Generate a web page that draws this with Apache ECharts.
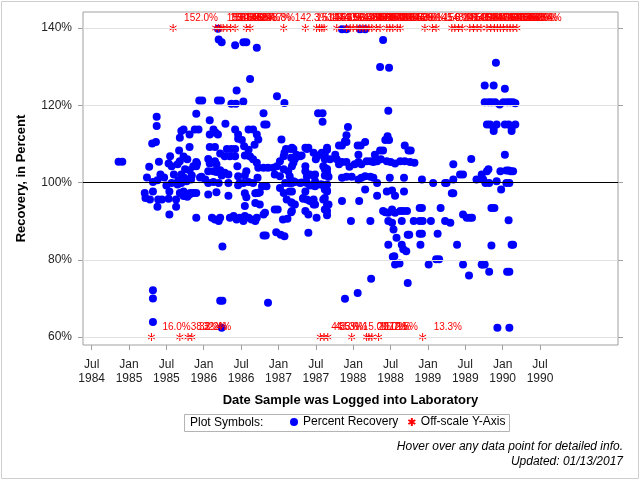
<!DOCTYPE html>
<html>
<head>
<meta charset="utf-8">
<title>Percent Recovery by Log Date</title>
<script src="https://cdn.jsdelivr.net/npm/echarts@6/dist/echarts.min.js"></script>
<style>
  html, body { margin: 0; padding: 0; background: #fff; }
  #chart { width: 640px; height: 480px; }
</style>
</head>
<body>
<div id="chart"></div>
<script>
// x = decimal year the sample was logged (1986.5 = Jul 1986), y = percent recovery
const xTickValues = [1984.5, 1985, 1985.5, 1986, 1986.5, 1987, 1987.5, 1988, 1988.5, 1989, 1989.5, 1990, 1990.5]
const xTickLabels = ['Jul\n1984', 'Jan\n1985', 'Jul\n1985', 'Jan\n1986', 'Jul\n1986', 'Jan\n1987', 'Jul\n1987',
  'Jan\n1988', 'Jul\n1988', 'Jan\n1989', 'Jul\n1989', 'Jan\n1990', 'Jul\n1990']
const yTickValues = [60, 80, 100, 120, 140]
const yGridValues = [60, 80, 120, 140]

const pts1985 = [
  [1984.86, 105.4], [1984.91, 105.4],
  [1985.37, 117.0], [1985.37, 114.6], [1985.31, 110.1], [1985.36, 110.5], [1985.27, 104.1], [1985.40, 105.4],
  [1985.24, 101.3], [1985.32, 100.1], [1985.38, 100.6], [1985.42, 102.1], [1985.21, 97.3], [1985.22, 96.0],
  [1985.28, 95.6], [1985.32, 97.7], [1985.39, 95.6], [1985.44, 95.6], [1985.38, 93.7], [1985.54, 91.7],
  [1985.54, 97.7], [1985.63, 95.6], [1985.63, 93.7], [1985.55, 106.8], [1985.53, 104.9], [1985.57, 104.2],
  [1985.70, 113.3], [1985.68, 111.6], [1985.73, 113.7], [1985.81, 112.4], [1985.81, 109.2], [1985.67, 108.3],
  [1985.73, 106.7], [1985.68, 105.5], [1985.65, 104.7], [1985.78, 106.0], [1985.81, 103.2], [1985.74, 101.2],
  [1985.66, 100.6], [1985.60, 102.1], [1985.57, 99.9], [1985.65, 99.5], [1985.70, 99.9], [1985.77, 100.3],
  [1985.83, 100.8], [1985.86, 104.2], [1985.91, 104.9], [1985.86, 97.3], [1985.81, 96.9], [1985.73, 97.7],
  [1985.68, 97.3], [1985.90, 90.9], [1985.94, 121.2], [1985.90, 117.8], [1985.88, 113.7], [1985.93, 113.7],
  [1985.32, 72.1], [1985.32, 70.0], [1985.32, 63.9],
  [1985.53, 95.8], [1985.73, 96.5], [1985.78, 96.3], [1985.82, 97.3], [1985.90, 105.3], [1985.90, 104.2],
  [1985.90, 97.3], [1985.75, 103.4], [1985.70, 102.1], [1985.84, 101.8], [1985.95, 101.3], [1985.47, 101.3],
  [1985.50, 99.2]
]

const pts1986 = [
  [1986.20, 137.0], [1986.24, 136.3], [1986.42, 135.5], [1986.53, 136.3], [1986.57, 136.3], [1986.71, 134.9],
  [1986.62, 126.8], [1986.44, 123.8], [1985.98, 121.2], [1986.19, 121.2], [1986.23, 121.2], [1986.37, 120.4],
  [1986.43, 120.4], [1986.53, 121.0], [1986.98, 122.3], [1987.08, 120.6], [1986.80, 117.9], [1986.81, 115.0],
  [1986.84, 115.0], [1986.08, 116.1], [1986.29, 115.2], [1986.13, 113.7], [1986.16, 112.9], [1986.08, 112.4],
  [1986.19, 112.4], [1986.42, 113.7], [1986.46, 112.4], [1986.46, 111.3], [1986.51, 111.0], [1986.60, 113.7],
  [1986.66, 113.7], [1986.71, 112.4], [1986.73, 111.1], [1986.68, 109.8], [1986.08, 109.2], [1986.15, 109.2],
  [1986.31, 108.7], [1986.37, 108.7], [1986.42, 108.7], [1986.54, 109.4], [1986.60, 108.5], [1986.22, 107.5],
  [1986.28, 106.8], [1986.35, 106.8], [1986.42, 106.8], [1986.55, 107.0], [1986.62, 106.7], [1986.66, 106.0],
  [1986.71, 105.1], [1986.73, 103.8], [1986.80, 103.8], [1986.86, 103.8], [1986.93, 103.8], [1986.98, 104.2],
  [1987.02, 105.5], [1987.07, 106.8], [1987.10, 108.7], [1987.16, 108.7], [1987.20, 108.7], [1987.04, 111.1],
  [1987.08, 107.7], [1987.17, 106.4], [1986.06, 106.1], [1986.08, 104.9], [1986.15, 105.5], [1986.17, 104.7],
  [1986.06, 102.9], [1986.13, 102.9], [1986.17, 102.7], [1986.22, 103.2], [1985.97, 101.5], [1986.02, 100.8],
  [1986.06, 99.9], [1986.13, 100.1], [1986.20, 99.9], [1986.24, 101.8], [1986.28, 102.5], [1986.33, 102.1],
  [1986.33, 99.9], [1986.45, 104.2], [1986.46, 101.6], [1986.55, 101.8], [1986.57, 102.9], [1986.53, 99.9],
  [1986.48, 99.9], [1986.60, 100.1], [1986.66, 99.9], [1986.72, 101.2], [1986.78, 99.0], [1986.84, 99.0],
  [1986.75, 97.5], [1986.71, 97.3], [1986.95, 102.1], [1987.02, 101.6], [1987.07, 103.4], [1987.13, 102.9],
  [1987.15, 101.6], [1987.18, 104.2], [1987.20, 105.1], [1987.09, 99.9], [1987.14, 99.9], [1987.20, 100.3],
  [1986.06, 96.9], [1986.17, 97.5], [1986.33, 96.6], [1986.46, 99.3], [1986.55, 97.2], [1986.57, 96.2],
  [1986.69, 97.2], [1986.73, 97.3], [1987.02, 98.6], [1987.07, 97.3], [1987.15, 97.7], [1987.11, 95.6],
  [1987.17, 94.9], [1986.55, 93.9], [1986.69, 94.7], [1986.75, 94.3], [1986.80, 91.7], [1986.82, 92.2],
  [1986.11, 90.9], [1986.15, 90.4], [1986.20, 90.0], [1986.22, 90.9], [1986.35, 90.9], [1986.40, 91.3],
  [1986.44, 90.4], [1986.48, 90.9], [1986.53, 90.0], [1986.55, 91.3], [1986.60, 90.9], [1986.64, 90.4],
  [1986.69, 90.0], [1986.71, 90.9], [1986.80, 86.3], [1986.83, 86.3], [1986.95, 93.0], [1986.99, 93.0],
  [1986.97, 87.1], [1987.03, 86.5], [1987.08, 86.1], [1987.06, 90.4], [1987.12, 90.6], [1987.17, 92.3],
  [1986.25, 83.4], [1986.22, 69.4], [1986.25, 69.4], [1986.86, 68.9], [1986.24, 62.4], [1986.19, 139.8]
]

const pts1987 = [
  [1987.53, 117.9], [1987.59, 117.9], [1987.59, 115.7], [1987.93, 114.4], [1987.91, 112.2], [1987.81, 109.6],
  [1987.85, 109.6], [1987.91, 110.5], [1987.38, 108.7], [1987.31, 107.0], [1987.47, 107.7], [1987.50, 106.0],
  [1987.53, 107.0], [1987.58, 107.7], [1987.65, 108.5], [1987.18, 109.0], [1987.22, 106.1], [1987.29, 106.8],
  [1987.40, 109.0], [1987.62, 106.0], [1987.69, 106.0], [1987.76, 107.2], [1987.78, 106.0], [1987.81, 104.7],
  [1987.85, 105.3], [1987.91, 105.3], [1987.95, 104.1], [1987.36, 104.2], [1987.36, 102.9], [1987.38, 101.5],
  [1987.47, 101.8], [1987.49, 102.1], [1987.62, 103.8], [1987.62, 101.8], [1987.67, 101.5], [1987.85, 101.2],
  [1987.91, 101.5], [1987.98, 101.5], [1987.42, 99.2], [1987.49, 99.0], [1987.56, 99.5], [1987.49, 100.3],
  [1987.38, 99.9], [1987.31, 100.0], [1987.65, 97.9], [1987.36, 97.7], [1987.33, 96.0], [1987.38, 95.6],
  [1987.47, 95.6], [1987.49, 94.3], [1987.62, 96.0], [1987.65, 94.3], [1987.67, 94.3], [1987.36, 92.6],
  [1987.40, 91.7], [1987.51, 90.9], [1987.65, 92.6], [1987.65, 91.5], [1987.40, 87.0], [1987.85, 95.2],
  [1987.97, 90.0], [1987.89, 69.9], [1987.85, 139.7], [1987.91, 139.7],
  [1987.24, 107.2], [1987.36, 109.0], [1987.42, 102.1], [1987.60, 104.2], [1987.65, 103.5], [1987.18, 99.9],
  [1987.22, 100.1], [1987.29, 99.9], [1987.51, 99.5], [1987.47, 99.2], [1987.58, 99.5], [1987.65, 99.5],
  [1987.65, 97.7], [1987.18, 97.7], [1987.62, 98.2], [1987.18, 94.7], [1987.22, 94.3], [1987.18, 92.6],
  [1987.33, 95.8], [1987.42, 95.2], [1987.47, 94.3], [1987.60, 95.6], [1987.62, 93.0], [1987.62, 107.2],
  [1987.65, 109.0], [1987.62, 103.4], [1987.65, 102.5], [1987.89, 110.7]
]

const pts1988 = [
  [1988.06, 109.6], [1988.10, 109.6], [1988.16, 110.5], [1988.02, 104.7], [1988.07, 105.3], [1988.11, 104.7],
  [1988.18, 105.5], [1988.23, 105.5], [1988.27, 105.3], [1988.32, 105.5], [1988.37, 106.0], [1988.45, 105.5],
  [1988.50, 105.3], [1988.56, 104.9], [1988.63, 105.5], [1988.69, 105.5], [1988.76, 105.3], [1988.82, 105.1],
  [1988.43, 111.0], [1988.46, 112.0], [1988.48, 111.0], [1988.36, 108.3], [1988.40, 108.3], [1988.29, 107.2],
  [1988.69, 109.6], [1988.74, 108.3], [1988.77, 108.3], [1988.47, 118.6], [1988.40, 136.9], [1988.36, 129.9],
  [1988.48, 129.7], [1988.09, 139.7], [1988.16, 139.7], [1988.07, 100.8], [1988.11, 101.2], [1988.16, 101.6],
  [1988.23, 101.5], [1988.27, 101.2], [1988.49, 101.2], [1988.68, 101.2], [1988.16, 98.2], [1988.32, 99.9],
  [1988.32, 96.6], [1988.52, 97.9], [1988.56, 96.6], [1988.68, 97.7], [1988.08, 95.2], [1988.23, 90.0],
  [1988.40, 92.6], [1988.47, 92.2], [1988.52, 93.0], [1988.56, 92.2], [1988.63, 92.6], [1988.67, 92.6],
  [1988.72, 92.6], [1988.47, 90.0], [1988.52, 89.6], [1988.54, 87.8], [1988.58, 85.7], [1988.65, 83.9],
  [1988.71, 82.2], [1988.47, 83.9], [1988.55, 80.9], [1988.56, 78.8], [1988.62, 79.0], [1988.65, 90.0],
  [1988.81, 90.0], [1988.89, 90.0], [1988.93, 90.0], [1988.89, 93.4], [1988.92, 93.4], [1988.89, 86.7],
  [1988.92, 86.7], [1988.73, 86.5], [1988.75, 86.5], [1988.90, 83.9], [1988.24, 75.1], [1988.06, 71.4],
  [1988.73, 74.0], [1988.67, 82.7], [1988.53, 80.8], [1988.92, 100.8], [1988.43, 92.3], [1988.45, 97.7],
  [1988.07, 107.2]
]

const pts1989 = [
  [1989.04, 90.0], [1989.13, 86.7], [1989.17, 93.4], [1989.01, 78.8], [1989.11, 80.1], [1989.15, 80.1],
  [1989.23, 90.0], [1989.30, 89.6], [1989.32, 97.2], [1989.34, 97.2], [1989.39, 83.9], [1989.47, 91.7],
  [1989.52, 90.9], [1989.56, 90.9], [1989.47, 78.8], [1989.55, 75.9], [1989.72, 78.8], [1989.07, 99.9],
  [1989.23, 99.9], [1989.25, 99.9], [1989.34, 100.8], [1989.43, 102.1], [1989.47, 102.1], [1989.34, 104.7],
  [1989.58, 106.1], [1989.65, 100.8], [1989.72, 102.1], [1989.74, 100.8], [1989.79, 102.9], [1989.81, 103.4],
  [1989.77, 99.9], [1989.82, 99.9], [1989.92, 100.3], [1989.97, 102.9], [1990.03, 107.2], [1990.05, 103.1],
  [1990.08, 103.1], [1990.11, 102.9], [1990.14, 102.9], [1990.05, 99.9], [1990.09, 99.9], [1989.98, 98.2],
  [1989.85, 93.4], [1989.89, 93.4], [1989.85, 83.7], [1990.08, 90.2], [1990.12, 83.9], [1990.14, 83.9],
  [1990.03, 124.3], [1989.91, 131.0], [1989.76, 125.1], [1989.88, 125.1],
  [1989.76, 120.8], [1989.81, 120.8], [1989.85, 120.8], [1989.90, 120.8], [1989.96, 120.2], [1990.01, 120.8],
  [1990.06, 120.8], [1990.10, 120.8], [1990.14, 120.8], [1990.17, 120.5],
  [1989.79, 115.0], [1989.83, 115.0], [1989.88, 114.2], [1989.92, 115.0], [1990.03, 115.0], [1990.08, 115.0],
  [1990.12, 114.2], [1990.17, 115.0], [1990.12, 113.3], [1989.88, 113.3],
  [1989.73, 78.8], [1989.76, 78.8], [1989.82, 76.9], [1990.06, 76.9], [1990.09, 76.9], [1989.93, 62.4],
  [1990.09, 62.4], [1989.59, 90.9]
]

// off-scale results: drawn on the 140% / 60% lines, labelled with the real value
const offHighDates = [1985.59, 1986.16, 1986.20, 1986.23, 1986.26, 1986.31, 1986.36, 1986.42, 1986.57, 1986.62,
  1987.07, 1987.36, 1987.51, 1987.55, 1987.58, 1987.61, 1987.78, 1987.91, 1987.96, 1988.00, 1988.05, 1988.09,
  1988.13, 1988.17, 1988.21, 1988.25, 1988.31, 1988.36, 1988.45, 1988.49, 1988.53, 1988.59, 1988.63, 1988.96,
  1989.06, 1989.11, 1989.32, 1989.36, 1989.41, 1989.46, 1989.56, 1989.61, 1989.66, 1989.71, 1989.79, 1989.84,
  1989.89, 1989.93, 1989.97, 1990.01, 1990.06, 1990.10, 1990.14, 1990.19]
const offHighValues = [152.0, 153.6, 158.1, 150.4, 161.3, 148.5, 155.2, 146.9, 157.7, 148.8,
  142.3, 153.1, 147.6, 162.0, 144.5, 151.9, 156.4, 143.8, 158.5, 149.7, 165.2, 145.9,
  152.6, 141.7, 159.0, 147.2, 154.3, 143.1, 150.8, 146.5, 157.3, 144.9, 153.0, 145.3,
  156.2, 148.0, 141.9, 163.5, 150.1, 146.8, 152.4, 144.0, 158.9, 147.5, 155.6, 142.7,
  160.3, 149.1, 145.6, 153.8, 151.2, 146.3, 157.9, 148.4]
const offLowDates = [1985.30, 1985.68, 1985.79, 1985.84, 1987.56, 1987.61, 1987.66, 1987.98, 1988.18, 1988.21,
  1988.25, 1988.34, 1988.93]
const offLowValues = [16.0, 38.2, 33.2, 32.4, 44.3, 43.3, 35.6, 15.0, 20.0, 11.7, 17.1, 12.5, 13.3]

const X_MIN = 1984.384
const X_MAX = 1991.544
const Y_MIN = 57.93
const Y_MAX = 144.14
const FONT = '"Liberation Sans", Arial, Helvetica, sans-serif'
const STAR = 'path://M4,0L4,8M0.54,2L7.46,6M0.54,6L7.46,2'

const recovery = [].concat(pts1985, pts1986, pts1987, pts1988, pts1989)
const offScale = offHighDates.map((d, i) => [d, 140, offHighValues[i]])
  .concat(offLowDates.map((d, i) => [d, 60, offLowValues[i]]))

const chart = echarts.init(document.getElementById('chart'), null, { renderer: 'canvas' })

const xLabel = v => {
  const i = xTickValues.findIndex(t => Math.abs(t - v) < 1e-6)
  return i >= 0 ? xTickLabels[i] : ''
}

const option = {
  animation: false,
  backgroundColor: '#fff',
  textStyle: { fontFamily: FONT },
  grid: { left: 83, right: 22, top: 12, bottom: 135, show: true, borderColor: '#a0a0a0', borderWidth: 1 },
  xAxis: [{
    type: 'value', min: X_MIN, max: X_MAX,
    name: 'Date Sample was Logged into Laboratory',
    nameLocation: 'middle', nameGap: 49,
    nameTextStyle: { fontSize: 13, fontWeight: 'bold', color: '#000', fontFamily: FONT },
    axisLine: { show: false },
    splitLine: { show: false },
    axisTick: { show: true, length: 5, customValues: xTickValues, lineStyle: { color: '#a0a0a0' } },
    axisLabel: { customValues: xTickValues, formatter: xLabel, margin: 12, lineHeight: 14.5,
      fontSize: 12, color: '#222', fontFamily: FONT }
  }],
  yAxis: [{
    type: 'value', min: Y_MIN, max: Y_MAX, position: 'left',
    name: 'Recovery, in Percent',
    nameLocation: 'middle', nameGap: 55, nameRotate: 90,
    nameTextStyle: { fontSize: 13, fontWeight: 'bold', color: '#000', fontFamily: FONT },
    axisLine: { show: false },
    splitLine: { show: false },
    axisTick: { show: true, length: 5, customValues: yTickValues, lineStyle: { color: '#a0a0a0' } },
    axisLabel: { customValues: yTickValues, formatter: v => v + '%', margin: 11,
      fontSize: 12, color: '#222', fontFamily: FONT }
  }, {
    type: 'value', min: Y_MIN, max: Y_MAX, position: 'right',
    axisLine: { show: false },
    splitLine: { show: false },
    axisTick: { show: true, length: 5, customValues: yTickValues, lineStyle: { color: '#a0a0a0' } },
    axisLabel: { show: false }
  }],
  legend: {
    data: ['Percent Recovery', 'Off-scale Y-Axis'],
    left: 290, top: 416, padding: 0,
    itemWidth: 8, itemHeight: 8, itemGap: 9,
    textStyle: { fontSize: 12, color: '#000', fontFamily: FONT }
  },
  graphic: [
    { type: 'rect', silent: true, shape: { x: 1.5, y: 1.5, width: 637, height: 477 },
      style: { fill: 'none', stroke: '#cfcfcf', lineWidth: 1 } },
    { type: 'rect', silent: true, shape: { x: 184.5, y: 414.5, width: 325, height: 17 },
      style: { fill: 'none', stroke: '#b4b4b4', lineWidth: 1 } },
    { type: 'text', silent: true, x: 190, y: 423,
      style: { text: 'Plot Symbols:', font: '12px ' + FONT, fill: '#000', textVerticalAlign: 'middle' } },
    { type: 'text', silent: true, x: 623, y: 447,
      style: { text: 'Hover over any data point for detailed info.', font: 'italic 12px ' + FONT,
        fill: '#000', textAlign: 'right', textVerticalAlign: 'middle' } },
    { type: 'text', silent: true, x: 623, y: 462,
      style: { text: 'Updated: 01/13/2017', font: 'italic 12px ' + FONT,
        fill: '#000', textAlign: 'right', textVerticalAlign: 'middle' } }
  ],
  series: [
    {
      // reference lines: light grid plus the 100% line
      name: 'ref', type: 'scatter', data: [], silent: true, z: 1,
      markLine: {
        silent: true, symbol: 'none', animation: false, label: { show: false },
        data: yGridValues.map(v => ({ yAxis: v, lineStyle: { color: '#e2e2e2', width: 1, type: 'solid' } }))
          .concat([{ yAxis: 100, lineStyle: { color: '#000', width: 1, type: 'solid' } }])
      }
    },
    {
      name: 'Percent Recovery', type: 'scatter', data: recovery, z: 2,
      symbol: 'circle', symbolSize: 8,
      itemStyle: { color: '#0000ff', opacity: 1 }
    },
    {
      name: 'Off-scale Y-Axis', type: 'scatter', data: offScale, z: 3,
      symbol: STAR, symbolSize: 8, symbolKeepAspect: true,
      itemStyle: { color: 'rgba(0,0,0,0)', borderColor: '#ff0000', borderWidth: 1, opacity: 1 },
      label: {
        show: true, position: 'right', distance: 7, offset: [0, -9.5],
        color: '#ff0000', fontSize: 10, fontFamily: FONT,
        formatter: p => p.value[2].toFixed(1) + '%'
      }
    }
  ]
}

chart.setOption(option)
</script>
</body>
</html>
